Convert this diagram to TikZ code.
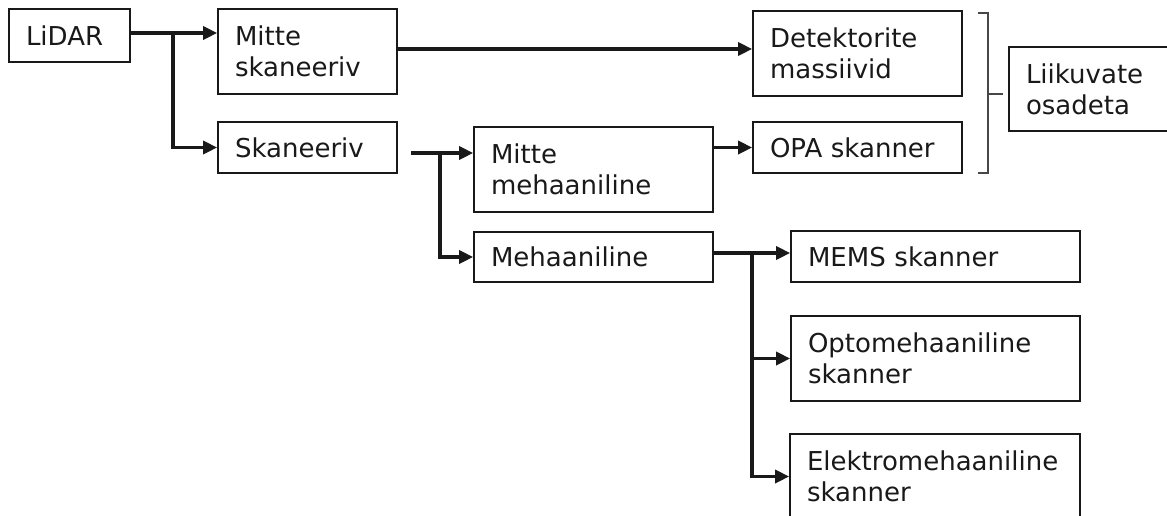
\documentclass[tikz,border=0pt]{standalone}
\usepackage{fontspec}
\setmainfont{DejaVu Sans}
\usetikzlibrary{arrows.meta}
\definecolor{ink}{RGB}{25,25,25}
\begin{document}
\begin{tikzpicture}[x=1pt,y=-1pt,
  box/.style={draw=ink, line width=1.7pt, align=left, inner xsep=17pt, inner ysep=0pt,
    text=ink, font=\fontsize{26}{31}\selectfont},
  arr/.style={draw=ink, line width=3.4pt, -{Triangle[length=14pt,width=13pt]}},
  brace/.style={draw=ink!80, line width=1.4pt}]
\useasboundingbox (0,0) rectangle (1167,515);

% level 0 and 1
\node[box, minimum width=121pt, minimum height=53pt, text width=87pt] (lidar) at (69.5,35.5) {LiDAR};
\node[box, minimum width=179pt, minimum height=85pt, text width=145pt] (ms) at (307.5,51.5) {Mitte\\skaneeriv};
\node[box, minimum width=179pt, minimum height=51pt, text width=145pt] (sk) at (307.5,147.5) {Skaneeriv};

% level 2
\node[box, minimum width=239pt, minimum height=85pt, text width=205pt] (mm) at (593.5,169.5) {Mitte\\mehaaniline};
\node[box, minimum width=239pt, minimum height=50pt, text width=205pt] (meh) at (593.5,257) {Mehaaniline};

% level 3
\node[box, minimum width=209pt, minimum height=85pt, text width=175pt] (det) at (857.5,53.5) {Detektorite\\massiivid};
\node[box, minimum width=209pt, minimum height=51pt, text width=175pt] (opa) at (857.5,147.5) {OPA skanner};
\node[box, minimum width=289pt, minimum height=51pt, text width=255pt] (mems) at (935.5,256.5) {MEMS skanner};
\node[box, minimum width=289pt, minimum height=85pt, text width=255pt] (opto) at (935.5,358.5) {Optomehaaniline\\skanner};
\node[box, minimum width=290pt, minimum height=85pt, text width=256pt] (elek) at (935,476.5) {Elektromehaaniline\\skanner};

% group without moving parts
\node[box, minimum width=163pt, minimum height=84pt, text width=129pt] (lo) at (1090.5,89) {Liikuvate\\osadeta};

% connectors
\coordinate (j1) at (173,33);
\draw[arr] (lidar.east |- j1) -- (ms.west |- j1);
\draw[arr] (j1) |- (sk.west);

\coordinate (r1) at (0,49);
\draw[arr] (ms.east |- r1) -- (det.west |- r1);

\coordinate (s0) at (411,153);
\coordinate (j2) at (440,153);
\draw[arr] (s0) -- (mm.west |- s0);
\draw[arr] (j2) |- (meh.west);

\draw[arr] (mm.east |- opa.west) -- (opa.west);

\coordinate (j3) at (752,253);
\draw[arr] (meh.east |- j3) -- (mems.west |- j3);
\draw[arr] (j3) |- (opto.west);
\draw[arr] (j3) |- (elek.west);

% bracket grouping the two top-right boxes
\coordinate (bt) at (988,13);
\coordinate (bb) at (988,173);
\coordinate (bm) at (988,94);
\draw[brace] ([xshift=-10pt]bt) -- (bt) -- (bb) -- ([xshift=-10pt]bb);
\draw[brace] (bm) -- ++(15,0);
\end{tikzpicture}
\end{document}
